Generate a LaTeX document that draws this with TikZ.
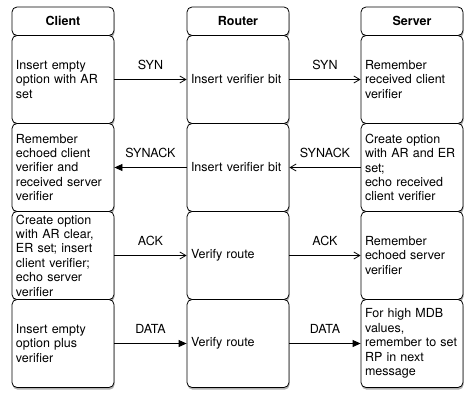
\documentclass[tikz,border=0pt]{standalone}
\usepackage{fontspec}
\setmainfont{TeX Gyre Heros}
\usetikzlibrary{arrows.meta,shadows}

\tikzset{
 stage/.style={draw,line width=0.8pt,rounded corners=5pt,fill=white,
   minimum width=102pt,minimum height=88pt,text width=94pt,inner xsep=4pt,
   align=left,font=\fontsize{12.5}{14.4}\selectfont,
   drop shadow={shadow xshift=0.6pt,shadow yshift=-2.2pt,opacity=0.3,fill=black}},
 head/.style={stage,minimum height=28.5pt,align=center,
   font=\fontsize{12.5}{14.4}\selectfont\bfseries},
 msgopen/.style={line width=0.8pt,-{Straight Barb[length=6pt,width=7pt]}},
 msgfill/.style={line width=0.8pt,-{Triangle[length=8pt,width=7pt]}},
 msglabel/.style={above=6.5pt,font=\fontsize{12.5}{14.4}\selectfont}
}

\begin{document}
\begin{tikzpicture}[x=1pt,y=-1pt]
 \useasboundingbox (0,0) rectangle (474,404);

 % headers
 \node [head] (client) at (63,21.25) {Client};
 \node [head] (router) at (238,21.25) {Router};
 \node [head] (server) at (412,21.25) {Server};

 % client column
 \node [stage] (C1) at (63,79.5) {Insert empty\\option with AR\\set};
 \node [stage] (C2) at (63,167.5) {Remember\\echoed client\\verifier and\\received server\\verifier};
 \node [stage] (C3) at (63,255.5) {Create option\\with AR clear,\\ER set; insert\\client verifier;\\echo server\\verifier};
 \node [stage] (C4) at (63,343.5) {Insert empty\\option plus\\verifier};

 % router column
 \node [stage] (R1) at (238,79.5) {Insert verifier bit};
 \node [stage] (R2) at (238,167.5) {Insert verifier bit};
 \node [stage] (R3) at (238,255.5) {Verify route};
 \node [stage] (R4) at (238,343.5) {Verify route};

 % server column
 \node [stage] (S1) at (412,79.5) {Remember\\received client\\verifier};
 \node [stage] (S2) at (412,167.5) {Create option\\with AR and ER\\set;\\echo received\\client verifier};
 \node [stage] (S3) at (412,255.5) {Remember\\echoed server\\verifier};
 \node [stage] (S4) at (412,343.5) {For high MDB\\values,\\remember to set\\RP in next\\message};

 % messages
 \draw [msgopen] (C1) -- node [msglabel] {SYN} (R1);
 \draw [msgopen] (R1) -- node [msglabel] {SYN} (S1);
 \draw [msgfill] (R2) -- node [msglabel] {SYNACK} (C2);
 \draw [msgopen] (S2) -- node [msglabel] {SYNACK} (R2);
 \draw [msgopen] (C3) -- node [msglabel] {ACK} (R3);
 \draw [msgopen] (R3) -- node [msglabel] {ACK} (S3);
 \draw [msgfill] (C4) -- node [msglabel] {DATA} (R4);
 \draw [msgfill] (R4) -- node [msglabel] {DATA} (S4);
\end{tikzpicture}
\end{document}
